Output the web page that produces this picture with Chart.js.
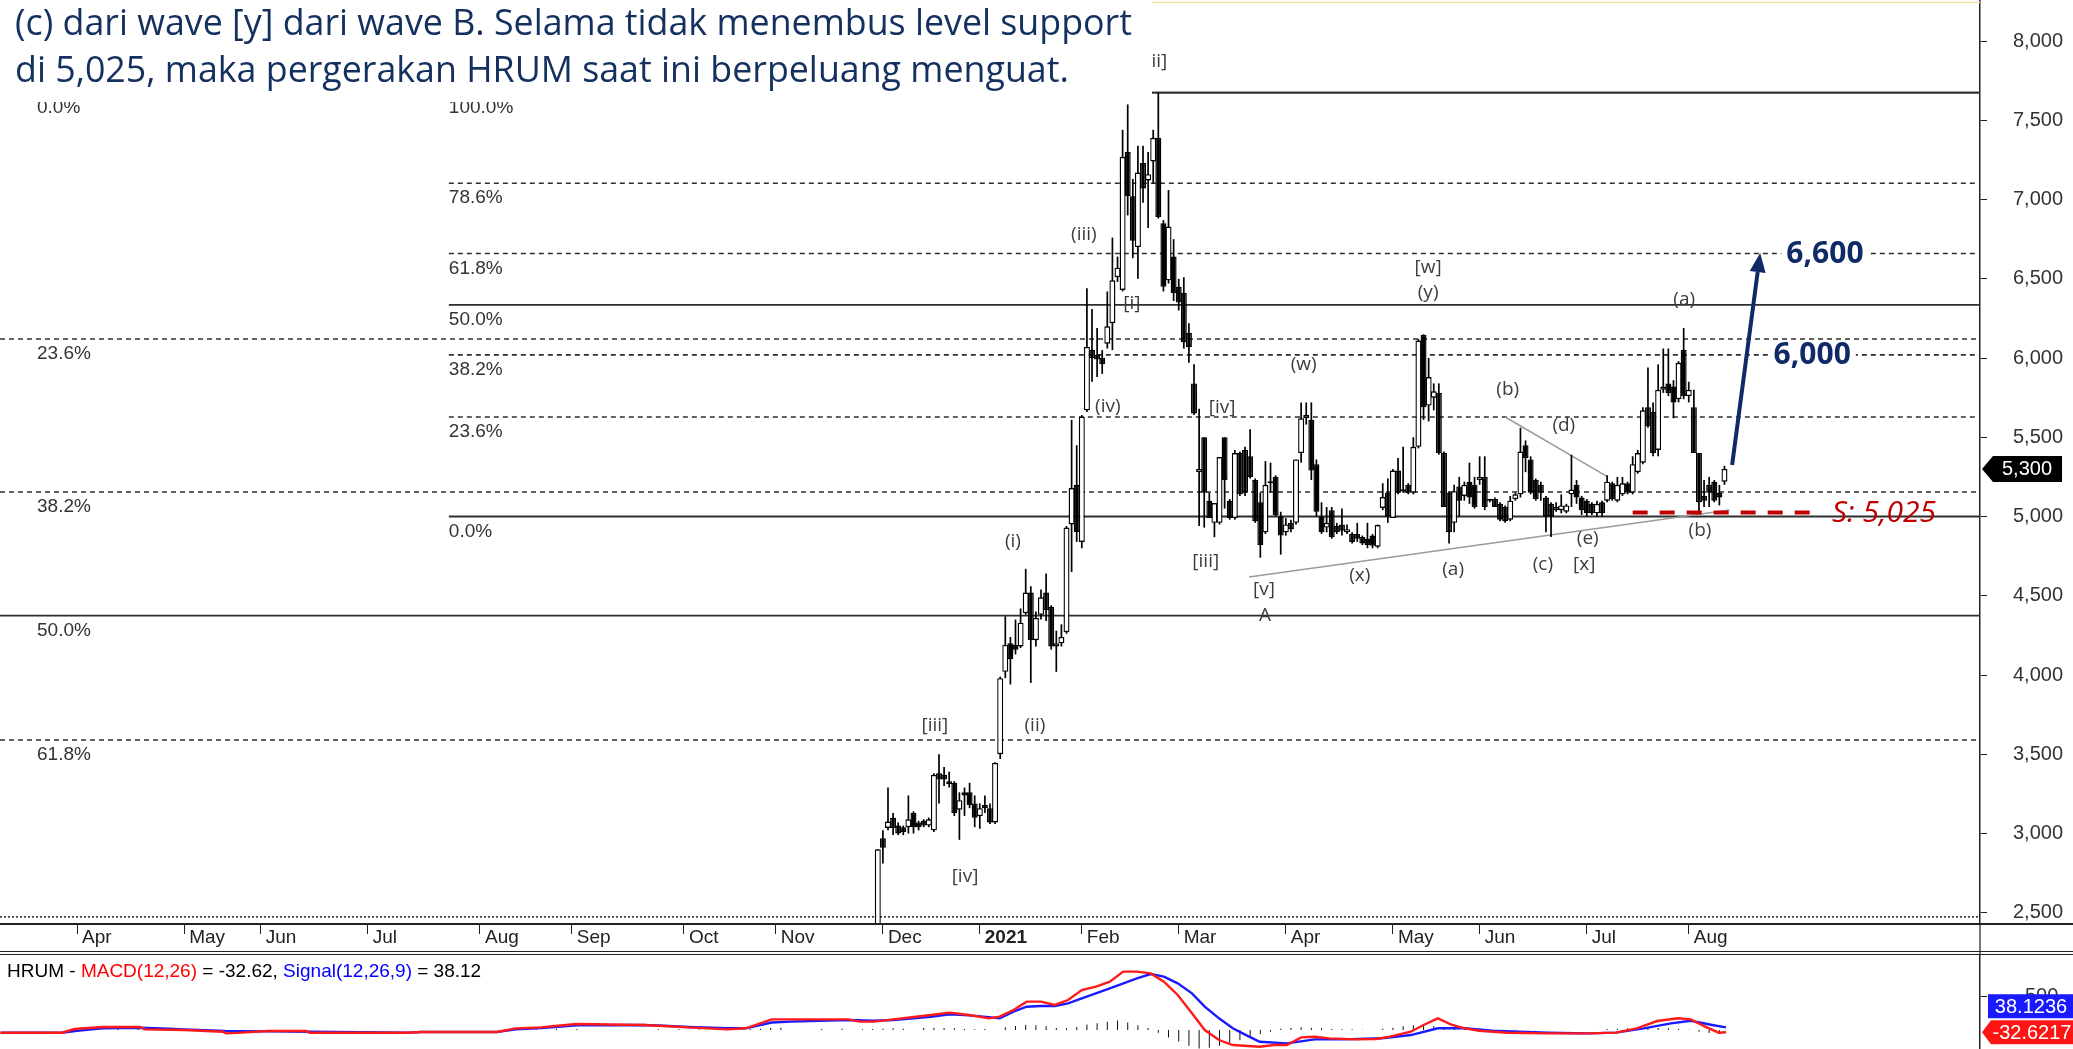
<!DOCTYPE html>
<html>
<head>
<meta charset="utf-8">
<title>HRUM</title>
<script src="https://cdn.jsdelivr.net/npm/chart.js@4.4.1/dist/chart.umd.min.js"></script>
<style>
  html, body { margin: 0; padding: 0; background: #fff; }
  #wrap { position: relative; width: 2073px; height: 1049px; overflow: hidden; background: #fff; }
  #priceBox { position: absolute; left: 0; top: 0; width: 2073px; height: 955px; }
  #macdBox { position: absolute; left: 0; top: 955px; width: 2073px; height: 94px; }
</style>
</head>
<body>
<div id="wrap">
  <div id="priceBox"><canvas id="priceChart"></canvas></div>
  <div id="macdBox"><canvas id="macdChart"></canvas></div>
</div>
<script>
"use strict";
// x values are trading-day numbers, 0 = first session of Dec 2020
const monthLabels = ["Apr", "May", "Jun", "Jul", "Aug", "Sep", "Oct", "Nov", "Dec", "2021", "Feb", "Mar", "Apr", "May", "Jun", "Jul", "Aug"];
const monthIdx = [-158, -137, -122, -101, -79, -61, -39, -21, 0, 19, 39, 58, 79, 100, 117, 138, 158];
const priceTicks = [2500, 3000, 3500, 4000, 4500, 5000, 5500, 6000, 6500, 7000, 7500, 8000];

// candles, [open, high, low, close]
const firstCandle = -1;
const candlesDec = [
  [2350, 2900, 2330, 2900], [2970, 3020, 2810, 2910], [3035, 3290, 3020, 3075], [3100, 3130, 2990, 3035],
  [3050, 3070, 2990, 3000], [3040, 3050, 2990, 3010], [3040, 3240, 3000, 3090], [3130, 3140, 3000, 3040],
  [3070, 3080, 3020, 3040], [3080, 3090, 3040, 3050], [3050, 3100, 3040, 3090], [3020, 3380, 3010, 3370],
  [3380, 3500, 3190, 3340], [3370, 3420, 3300, 3340], [3330, 3390, 3290, 3310], [3320, 3330, 3110, 3130],
  [3150, 3260, 2960, 3210], [3260, 3290, 3110, 3240], [3260, 3320, 3160, 3180], [3190, 3240, 3040, 3100]
];
const candlesJan = [
  [3110, 3190, 3030, 3160], [3180, 3240, 3130, 3160], [3160, 3190, 3060, 3070], [3070, 3450, 3060, 3445],
  [3500, 3990, 3470, 3980], [4020, 4370, 3980, 4190], [4200, 4240, 3940, 4100], [4190, 4350, 4130, 4160],
  [4180, 4420, 4170, 4330], [4390, 4670, 4380, 4520], [4520, 4560, 3950, 4220], [4220, 4400, 4180, 4360],
  [4380, 4540, 4350, 4490], [4520, 4640, 4340, 4410], [4430, 4440, 4160, 4180], [4180, 4280, 4020, 4200],
  [4200, 4320, 4180, 4240], [4270, 4940, 4260, 4930], [4950, 5610, 4650, 5180], [5200, 5450, 4840, 4900]
];
const candlesFeb = [
  [4840, 5640, 4800, 5630], [5670, 6440, 5660, 6070], [6050, 6310, 5850, 6000], [6020, 6190, 5880, 5990],
  [6000, 6050, 5900, 5960], [6090, 6420, 6060, 6200], [6220, 6760, 6050, 6490], [6510, 6640, 6480, 6570],
  [6430, 7440, 6420, 7270], [7300, 7600, 6900, 7020], [7020, 7130, 6630, 6740], [6700, 7340, 6500, 7170],
  [7230, 7340, 6980, 7070], [7120, 7300, 6820, 7160], [7240, 7440, 7100, 7390], [7390, 7675, 6880, 6890],
  [6850, 6870, 6420, 6450], [6490, 7060, 6470, 6830], [6640, 6750, 6360, 6410]
];
const candlesMar = [
  [6450, 6500, 6300, 6350], [6410, 6510, 6060, 6100], [6160, 6220, 5970, 6070], [5840, 5960, 5640, 5650],
  [5280, 5680, 4940, 5300], [5500, 5500, 4930, 5150], [5100, 5150, 4990, 4990], [4960, 5085, 4870, 5085],
  [4960, 5375, 4950, 5375], [5500, 5500, 5050, 5230], [5100, 5110, 4980, 4990], [4990, 5420, 4980, 5400],
  [5400, 5410, 5130, 5140], [5420, 5440, 5130, 5150], [5380, 5550, 5240, 5250], [5230, 5240, 4960, 4970],
  [5090, 5150, 4740, 4820], [4900, 5350, 4890, 5200], [5210, 5340, 5150, 5220], [5250, 5260, 5000, 5010],
  [5000, 5030, 4760, 4880]
];
const candlesApr = [
  [4900, 4990, 4880, 4950], [4960, 4980, 4900, 4920], [4960, 5360, 4950, 5360], [5400, 5720, 5340, 5620],
  [5620, 5720, 5580, 5640], [5610, 5720, 5230, 5290], [5330, 5360, 5000, 5030], [5000, 5090, 4890, 4900],
  [4930, 5060, 4900, 4960], [5040, 5060, 4860, 4870], [4940, 4960, 4890, 4900], [4950, 5050, 4880, 4910],
  [4900, 4950, 4890, 4920], [4890, 4900, 4830, 4840], [4890, 4960, 4840, 4860], [4870, 4880, 4820, 4830],
  [4860, 4960, 4800, 4820], [4880, 4890, 4800, 4815], [4810, 4950, 4800, 4946], [5054, 5210, 5040, 5123],
  [5150, 5240, 4960, 5000]
];
const candlesMay = [
  [4990, 5300, 4990, 5290], [5290, 5370, 5140, 5150], [5170, 5440, 5150, 5160], [5200, 5210, 5140, 5150],
  [5150, 5500, 5140, 5440], [5440, 6120, 5430, 6110], [6145, 6150, 5610, 5690], [5700, 6000, 5600, 5880],
  [5750, 5840, 5670, 5790], [5780, 5840, 5390, 5400], [5400, 5410, 5060, 5060], [5150, 5160, 4830, 4900],
  [4960, 5200, 4900, 5160], [5190, 5250, 5000, 5100], [5130, 5220, 5100, 5200], [5220, 5340, 5080, 5120],
  [5200, 5250, 5050, 5060]
];
const candlesJun = [
  [5230, 5380, 5200, 5250], [5250, 5380, 5040, 5060], [5100, 5110, 5090, 5100], [5110, 5120, 5060, 5060],
  [5080, 5090, 4970, 4980], [5060, 5070, 4960, 4970], [4980, 5130, 4970, 5100], [5110, 5150, 5100, 5140],
  [5140, 5560, 5120, 5410], [5450, 5480, 5280, 5370], [5360, 5380, 5140, 5150], [5230, 5240, 5100, 5110],
  [5200, 5220, 5100, 5150], [5120, 5130, 4900, 5000], [5080, 5090, 4870, 5000], [5040, 5090, 5030, 5060],
  [5040, 5140, 5020, 5070], [5030, 5080, 5020, 5070], [5140, 5390, 5060, 5170], [5200, 5230, 5080, 5120],
  [5120, 5130, 5010, 5040]
];
const candlesJul = [
  [5100, 5110, 5000, 5020], [5080, 5090, 5010, 5020], [5020, 5100, 5000, 5080], [5090, 5100, 5000, 5020],
  [5100, 5260, 5090, 5220], [5210, 5220, 5100, 5110], [5100, 5250, 5090, 5200], [5140, 5250, 5130, 5210],
  [5210, 5220, 5140, 5150], [5150, 5380, 5140, 5330], [5280, 5420, 5270, 5400], [5340, 5690, 5330, 5670],
  [5690, 5940, 5560, 5570], [5660, 5720, 5380, 5400], [5420, 5960, 5380, 5800], [5800, 6060, 5780, 5820],
  [5840, 6060, 5760, 5780], [5820, 5860, 5620, 5720], [5740, 5980, 5720, 5970], [6050, 6190, 5740, 5760]
];
const candlesAug = [
  [5760, 5850, 5720, 5800], [5690, 5800, 5400, 5400], [5400, 5400, 5020, 5090], [5130, 5230, 5060, 5100],
  [5200, 5250, 5060, 5150], [5220, 5230, 5090, 5100], [5150, 5200, 5070, 5120], [5220, 5320, 5200, 5300]
];
const lastPrice = 5300;

// fibonacci levels
const fibLeftPct = ["0.0%", "23.6%", "38.2%", "50.0%", "61.8%", "78.6%"];
const fibLeftLevel = [7675, 6120, 5155, 4375, 3590, 2474];
const fibRightPct = ["100.0%", "78.6%", "61.8%", "50.0%", "38.2%", "23.6%", "0.0%"];
const fibRightLevel = [7675, 7103, 6660, 6336, 6020, 5628, 5000];
const fibRightFrom = -85.1;

// wave counts: text, day, price
const waveText = ["[ii]", "(iii)", "[i]", "(iv)", "[iv]", "(i)", "[iii]", "[v]", "A", "(w)", "[w]", "(y)",
  "(x)", "(a)", "(b)", "(d)", "(c)", "(e)", "[x]", "(a)", "(b)", "[iii]", "(ii)", "[iv]"];
const waveIdx = [53.6, 39.4, 48.8, 44.1, 66.5, 25.5, 63.3, 74.7, 74.9, 82.5, 106.9, 106.9,
  93.5, 111.8, 122.5, 133.5, 129.4, 138.2, 137.5, 157.1, 160.2, 10.2, 29.8, 16.1];
const wavePrice = [7868, 6776, 6341, 5691, 5685, 4839, 4713, 4536, 4372, 5956, 6568, 6410,
  4625, 4662, 5798, 5571, 4694, 4858, 4694, 6366, 4909, 3678, 3678, 2726];

const triangleLow = [[71.8, 4618], [166, 5041]];
const triangleHigh = [[122, 5628], [142.2, 5249]];
const supportLevel = 5025;
const supportSpan = [147, 182.2];
const supportText = "S: 5,025";
const targetText = ["6,600", "6,000"];
const targetPrice = [6660, 6020];
const targetIdx = [184.7, 182.2];
const arrowFrom = [166.5, 5325];
const arrowTo = [172, 6662];

// MACD panel: [day, value]
const macdLine = [
  [-173, -39], [-161, -39], [-158.5, 15], [-153, 44], [-145.7, 44], [-144.7, 10], [-137, 0], [-129.4, -25],
  [-128.8, -49], [-125.7, -39], [-120.6, -15], [-113.1, -15], [-112.4, -39], [-93.1, -39], [-90.6, -29],
  [-75.7, -29], [-72, 25], [-66.9, 39], [-64.3, 59], [-60, 88], [-46.9, 74], [-43.1, 59], [-38, 39],
  [-30.6, 10], [-26.9, 25], [-21.8, 157], [-6.9, 157], [-4.5, 123], [-1.8, 123], [2, 157], [9.4, 221],
  [13.1, 255], [16.9, 221], [20.8, 172], [22.9, 196], [25.6, 294], [28.2, 417], [31, 417], [33.7, 368],
  [36.3, 441], [39, 588], [41.8, 637], [44.5, 711], [47.1, 858], [49.8, 858], [52.5, 833], [55.1, 711],
  [57.8, 515], [60.6, 245], [63.1, 0], [65.9, -147], [68.6, -221], [73.9, -245], [76.7, -221], [79.2, -221],
  [82, -108], [84.7, -98], [87.5, -123], [92.7, -137], [96.7, -132], [99.4, -98], [103.5, -25], [106, 74],
  [108.8, 172], [111.6, 74], [114.1, 25], [116.9, -10], [122.4, -39], [130.4, -49], [138.4, -49],
  [143.7, -39], [147.8, 25], [151.8, 132], [155.9, 172], [158.4, 157], [161.2, 49], [163.9, -39], [165.3, -33]
];
const signalLine = [
  [-173, -39], [-161, -39], [-158, -10], [-153, 25], [-145.7, 34], [-140, 20], [-137, 10], [-129, -15],
  [-120, -20], [-112, -25], [-93, -39], [-90.6, -29], [-75.7, -29], [-72, 10], [-66.9, 30], [-64.3, 44],
  [-60, 70], [-46.9, 74], [-43.1, 64], [-38, 44], [-30.6, 25], [-26.9, 25], [-21.8, 110], [-18, 123],
  [-6.9, 147], [-1.8, 137], [2, 147], [9.4, 196], [13.1, 230], [16.9, 215], [20.8, 190], [22.9, 172],
  [25.6, 270], [28.2, 343], [31, 353], [33.7, 353], [36.3, 392], [39, 466], [44.5, 613], [49.8, 760],
  [52.5, 823], [55.1, 784], [57.8, 686], [60.6, 539], [63.1, 343], [65.9, 172], [68.6, 25], [71.2, -74],
  [73.9, -172], [79.2, -196], [84.7, -137], [90, -137], [97.8, -122], [103.5, -74], [108.8, 25], [114.1, 25],
  [119.5, -10], [124.8, -25], [130.4, -39], [138.4, -49], [143.7, -39], [149.2, 25], [154.5, 98], [158.4, 137],
  [162.6, 74], [165.3, 38]
];
const histBars = [
  [-156, 15], [-150, 20], [-146, 15], [-72, 20], [-68, 15], [-64, 20], [-60, 15], [-44, 10], [-40, 15],
  [-36, 10], [-26, 15], [-24, 20], [-22, 30], [-20, 35], [-12, 15], [-8, 20], [-4, 10], [-2, 15], [0, 20],
  [2, 25], [4, 20], [8, 30], [10, 35], [12, 30], [14, 25], [16, 15], [18, 10], [20, 15], [24, 40], [26, 60],
  [28, 75], [30, 70], [32, 55], [34, 30], [36, 25], [38, 45], [40, 80], [42, 100], [44, 120], [46, 140],
  [48, 110], [50, 70], [52, 30], [54, -40], [56, -110], [58, -170], [60, -230], [62, -270], [64, -260],
  [66, -230], [68, -190], [70, -150], [72, -100], [74, -60], [76, -25], [78, 20], [80, 30], [82, 40], [84, 35],
  [86, 25], [88, 15], [90, 10], [92, 10], [94, 5], [98, 20], [100, 35], [102, 55], [104, 70], [106, 75],
  [108, 60], [110, 35], [112, 20], [114, 10], [116, 5], [120, -5], [124, 5], [128, -5], [142, 15], [144, 20],
  [146, 25], [148, 30], [150, 35], [152, 30], [154, 25], [156, 15], [158, 5], [160, -25], [162, -45], [164, -60]
];
const macdNow = "-32.62";
const signalNow = "38.12";
const macdTag = "-32.6217";
const signalTag = "38.1236";

const titleLines = [
  "(c) dari wave [y] dari wave B. Selama tidak menembus level support",
  "di 5,025, maka pergerakan HRUM saat ini berpeluang menguat."
];

// ---- layout ----
const X_MIN = -173.1, X_MAX = 215.1;
const AXIS_FONT = '"Liberation Sans", Arial, sans-serif';
const NOTE_FONT = '"Open Sans", "Noto Sans", sans-serif';
const NAVY = "#0f2a66";

const candles = [].concat(candlesDec, candlesJan, candlesFeb, candlesMar, candlesApr,
  candlesMay, candlesJun, candlesJul, candlesAug);
const wickData = candles.map((c, i) => ({ x: firstCandle + i, y: [c[2], c[1]] }));
const bodyData = candles.map((c, i) => ({ x: firstCandle + i, y: [Math.min(c[0], c[3]), Math.max(c[0], c[3])] }));
const bodyColors = candles.map(c => (c[3] >= c[0] ? "#ffffff" : "#000000"));

function levelLine(level, from, pct, isLeft) {
  let dash = [5, 4];
  if (pct === "0.0%" || pct === "50.0%" || pct === "100.0%") dash = [];
  if (isLeft && pct === "78.6%") dash = [2, 2];
  return {
    type: "line",
    data: [{ x: from, y: level }, { x: X_MAX, y: level }],
    borderColor: "#2e2e2e",
    borderWidth: dash.length ? 1.6 : 1.8,
    borderDash: dash,
    pointRadius: 0,
    order: 10
  };
}

const datasets = [];
fibLeftLevel.forEach((v, i) => datasets.push(levelLine(v, X_MIN, fibLeftPct[i], true)));
fibRightLevel.forEach((v, i) => datasets.push(levelLine(v, fibRightFrom, fibRightPct[i], false)));
[triangleLow, triangleHigh].forEach(seg => datasets.push({
  type: "line",
  data: seg.map(p => ({ x: p[0], y: p[1] })),
  borderColor: "#9b9b9b",
  borderWidth: 1.5,
  pointRadius: 0,
  order: 9
}));
datasets.push({
  type: "line",
  data: [{ x: supportSpan[0], y: supportLevel }, { x: supportSpan[1], y: supportLevel }],
  borderColor: "#c00000",
  borderWidth: 4,
  borderDash: [15, 12],
  pointRadius: 0,
  order: 0
});
datasets.push({
  type: "bar",
  data: wickData,
  backgroundColor: "#000",
  grouped: false,
  maxBarThickness: 1.7,
  order: 3
});
datasets.push({
  type: "bar",
  data: bodyData,
  backgroundColor: bodyColors,
  borderColor: "#000",
  borderWidth: 1.4,
  borderSkipped: false,
  grouped: false,
  barPercentage: 1.2,
  categoryPercentage: 1,
  maxBarThickness: 6,
  minBarLength: 2,
  order: 2
});

const priceOverlay = {
  id: "priceOverlay",
  afterDraw(chart) {
    const { ctx, chartArea: area } = chart;
    const xs = chart.scales.x, ys = chart.scales.y;
    const px = v => xs.getPixelForValue(v);
    const py = v => ys.getPixelForValue(v);
    ctx.save();

    // fib and wave labels, clipped to plot
    ctx.save();
    ctx.beginPath();
    ctx.rect(area.left, area.top, area.width, area.height);
    ctx.clip();
    ctx.font = "19px " + AXIS_FONT;
    ctx.fillStyle = "#333";
    ctx.textAlign = "left";
    ctx.textBaseline = "middle";
    fibLeftPct.forEach((t, i) => ctx.fillText(t, 37, py(fibLeftLevel[i]) + 15));
    fibRightPct.forEach((t, i) => ctx.fillText(t, px(fibRightFrom), py(fibRightLevel[i]) + 15));
    ctx.font = "19px " + NOTE_FONT;
    ctx.fillStyle = "#3c3c3c";
    ctx.textAlign = "center";
    waveText.forEach((t, i) => ctx.fillText(t, px(waveIdx[i]), py(wavePrice[i])));
    ctx.restore();

    // targets
    ctx.font = "bold 30px " + NOTE_FONT;
    ctx.textAlign = "center";
    ctx.textBaseline = "middle";
    targetText.forEach((t, i) => {
      const w = ctx.measureText(t).width;
      const cx = px(targetIdx[i]), cy = py(targetPrice[i]);
      ctx.fillStyle = "#fff";
      ctx.fillRect(cx - w / 2 - 5, cy - 14, w + 10, 28);
      ctx.fillStyle = NAVY;
      ctx.fillText(t, cx, cy + 1);
    });

    // arrow
    const ax0 = px(arrowFrom[0]), ay0 = py(arrowFrom[1]);
    const ax1 = px(arrowTo[0]), ay1 = py(arrowTo[1]);
    const ang = Math.atan2(ay1 - ay0, ax1 - ax0);
    const hl = 19, hw = 8;
    const bx = ax1 - hl * Math.cos(ang), by = ay1 - hl * Math.sin(ang);
    ctx.strokeStyle = NAVY;
    ctx.lineWidth = 4;
    ctx.beginPath();
    ctx.moveTo(ax0, ay0);
    ctx.lineTo(bx, by);
    ctx.stroke();
    ctx.fillStyle = NAVY;
    ctx.beginPath();
    ctx.moveTo(ax1, ay1);
    ctx.lineTo(bx + hw * Math.sin(ang), by - hw * Math.cos(ang));
    ctx.lineTo(bx - hw * Math.sin(ang), by + hw * Math.cos(ang));
    ctx.closePath();
    ctx.fill();

    // support text
    ctx.font = "italic 30px " + NOTE_FONT;
    ctx.fillStyle = "#c00000";
    ctx.textAlign = "left";
    ctx.fillText(supportText, 1832, py(supportLevel) + 1);

    // last price tag
    const ty = py(lastPrice);
    ctx.fillStyle = "#000";
    ctx.beginPath();
    ctx.moveTo(1982, ty);
    ctx.lineTo(1993, ty - 13);
    ctx.lineTo(2062, ty - 13);
    ctx.lineTo(2062, ty + 13);
    ctx.lineTo(1993, ty + 13);
    ctx.closePath();
    ctx.fill();
    ctx.fillStyle = "#fff";
    ctx.font = "20px " + AXIS_FONT;
    ctx.textAlign = "center";
    ctx.fillText(lastPrice.toLocaleString("en-US"), 2027, ty + 1);

    // date strip frame
    ctx.strokeStyle = "#222";
    ctx.lineWidth = 2;
    ctx.beginPath();
    ctx.moveTo(0, area.bottom); ctx.lineTo(2073, area.bottom);
    ctx.stroke();
    ctx.lineWidth = 1.2;
    ctx.beginPath();
    ctx.moveTo(0, 951.5); ctx.lineTo(2073, 951.5);
    ctx.moveTo(0, 954.5); ctx.lineTo(2073, 954.5);
    ctx.moveTo(area.right, area.bottom); ctx.lineTo(area.right, 955);
    ctx.stroke();

    // note box on top
    ctx.fillStyle = "#fff";
    ctx.fillRect(0, 0, 1152, 102);
    ctx.strokeStyle = "#f1e2a4";
    ctx.lineWidth = 1.5;
    ctx.beginPath();
    ctx.moveTo(1152, 2.5); ctx.lineTo(area.right, 2.5);
    ctx.stroke();
    ctx.font = "28px " + NOTE_FONT;
    const w1 = ctx.measureText(titleLines[0]).width;
    const fs = 28 * 1117 / w1;
    ctx.font = fs.toFixed(2) + "px " + NOTE_FONT;
    ctx.fillStyle = "#14305f";
    ctx.textAlign = "left";
    ctx.textBaseline = "alphabetic";
    ctx.fillText(titleLines[0], 15, 35);
    ctx.fillText(titleLines[1], 15, 82);
    ctx.restore();
  }
};

new Chart(document.getElementById("priceChart"), {
  type: "bar",
  data: { datasets: datasets },
  options: {
    responsive: true,
    maintainAspectRatio: false,
    animation: false,
    layout: { padding: 0 },
    plugins: { legend: { display: false }, tooltip: { enabled: false } },
    scales: {
      x: {
        type: "linear",
        min: X_MIN,
        max: X_MAX,
        offset: false,
        grid: { drawOnChartArea: false, drawTicks: true, tickLength: 10, color: "#222", offset: false },
        border: { display: true, color: "#222", width: 2 },
        afterBuildTicks: s => { s.ticks = monthIdx.map(v => ({ value: v })); },
        afterFit: s => { s.height = 31; s.paddingLeft = 0; s.paddingRight = 0; },
        ticks: {
          autoSkip: false,
          maxRotation: 0,
          align: "start",
          labelOffset: 5,
          padding: -8,
          color: "#222",
          font: c => ({ family: AXIS_FONT, size: 19, weight: monthLabels[c.index] === "2021" ? "bold" : "normal" }),
          callback: (v, i) => monthLabels[i]
        }
      },
      y: {
        type: "linear",
        position: "right",
        min: 2429,
        max: 8259,
        grid: { drawOnChartArea: false, tickLength: 7, color: "#222" },
        border: { display: true, color: "#222", width: 1.5 },
        afterBuildTicks: s => { s.ticks = priceTicks.map(v => ({ value: v })); },
        afterFit: s => { s.width = 93; s.paddingTop = 0; s.paddingBottom = 0; },
        ticks: {
          padding: 26,
          crossAlign: "near",
          color: "#333",
          font: { family: AXIS_FONT, size: 20 },
          callback: v => v.toLocaleString("en-US")
        }
      }
    }
  },
  plugins: [priceOverlay]
});

const macdOverlay = {
  id: "macdOverlay",
  afterDraw(chart) {
    const { ctx } = chart;
    const ys = chart.scales.y;
    ctx.save();
    ctx.font = "19px " + AXIS_FONT;
    ctx.textBaseline = "middle";
    ctx.textAlign = "left";
    const parts = [
      ["HRUM - ", "#000"], ["MACD(12,26)", "#ff0000"], [" = " + macdNow + ", ", "#000"],
      ["Signal(12,26,9)", "#0000ff"], [" = " + signalNow, "#000"]
    ];
    let x = 7;
    parts.forEach(p => {
      ctx.fillStyle = p[1];
      ctx.fillText(p[0], x, 17);
      x += ctx.measureText(p[0]).width;
    });
    // value tags
    const ry = ys.getPixelForValue(parseFloat(macdTag));
    ctx.fillStyle = "#ff1414";
    ctx.beginPath();
    ctx.moveTo(1982, ry);
    ctx.lineTo(1991, ry - 12);
    ctx.lineTo(2073, ry - 12);
    ctx.lineTo(2073, ry + 12);
    ctx.lineTo(1991, ry + 12);
    ctx.closePath();
    ctx.fill();
    ctx.fillStyle = "#1a1aff";
    ctx.fillRect(1988, ry - 38, 85, 24);
    ctx.fillStyle = "#fff";
    ctx.font = "20px " + AXIS_FONT;
    ctx.textAlign = "center";
    ctx.fillText(signalTag, 2031, ry - 25);
    ctx.fillText(macdTag, 2032, ry + 1);
    ctx.restore();
  }
};

new Chart(document.getElementById("macdChart"), {
  type: "bar",
  data: {
    datasets: [
      {
        type: "line",
        data: macdLine.map(p => ({ x: p[0], y: p[1] })),
        borderColor: "#ff1a1a",
        borderWidth: 2.4,
        pointRadius: 0,
        order: 1
      },
      {
        type: "line",
        data: signalLine.map(p => ({ x: p[0], y: p[1] })),
        borderColor: "#1a1aff",
        borderWidth: 2.4,
        pointRadius: 0,
        order: 2
      },
      {
        type: "bar",
        data: histBars.map(p => ({ x: p[0], y: p[1] })),
        backgroundColor: "#111",
        grouped: false,
        maxBarThickness: 1,
        order: 3
      }
    ]
  },
  options: {
    responsive: true,
    maintainAspectRatio: false,
    animation: false,
    layout: { padding: 0 },
    plugins: { legend: { display: false }, tooltip: { enabled: false } },
    scales: {
      x: { type: "linear", min: X_MIN, max: X_MAX, offset: false, display: false },
      y: {
        type: "linear",
        position: "right",
        min: -279,
        max: 1103,
        grid: { drawOnChartArea: false, tickLength: 7, color: "#222" },
        border: { display: true, color: "#222", width: 1.5 },
        afterBuildTicks: s => { s.ticks = [{ value: 500 }]; },
        afterFit: s => { s.width = 93; s.paddingTop = 0; s.paddingBottom = 0; },
        ticks: { padding: 38, crossAlign: "near", color: "#333", font: { family: AXIS_FONT, size: 20 } }
      }
    }
  },
  plugins: [macdOverlay]
});
</script>
</body>
</html>
